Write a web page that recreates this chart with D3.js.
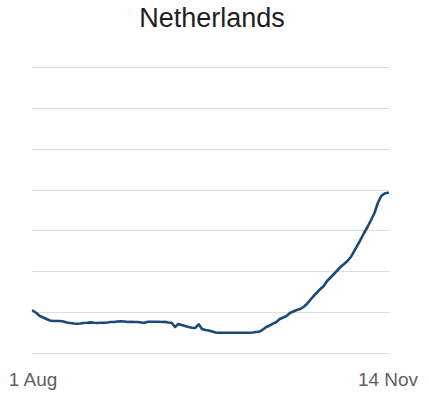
<!DOCTYPE html>
<html>
<head>
<meta charset="utf-8">
<script src="https://cdn.jsdelivr.net/npm/d3@7"></script>
<style>
  body { margin:0; background:#fff; }
  svg { display:block; font-family:"Liberation Sans", Arial, sans-serif; }
</style>
</head>
<body>
<svg id="chart" width="429" height="393"></svg>
<script>
// daily values, 1 Aug .. 14 Nov
const startDate = new Date(2020, 7, 1);
const endDate = new Date(2020, 10, 14);
const values = [
  10.35, 9.8, 9.06, 8.69, 8.32, 7.95, 7.83, 7.83, 7.83, 7.7,
  7.46, 7.34, 7.22, 7.17, 7.22, 7.34, 7.4, 7.5, 7.4, 7.34,
  7.4, 7.4, 7.46, 7.59, 7.59, 7.7, 7.76, 7.7, 7.59, 7.66,
  7.59, 7.59, 7.46, 7.4, 7.66, 7.66, 7.66, 7.66, 7.59, 7.66,
  7.46, 7.4, 6.36, 7.1, 6.85, 6.61, 6.36, 6.19, 6.12, 7.02,
  5.87, 5.63, 5.51, 5.26, 5.02, 4.97, 4.97, 4.97, 4.97, 4.97,
  4.97, 4.97, 4.97, 4.97, 4.97, 5.02, 5.14, 5.26, 5.75, 6.36,
  6.73, 7.17, 7.59, 8.32, 8.69, 9.06, 9.79, 10.16, 10.52, 10.77,
  11.26, 11.99, 12.97, 13.95, 14.81, 15.66, 16.4, 17.62, 18.48, 19.33,
  20.19, 21.05, 21.78, 22.52, 23.49, 24.96, 26.43, 27.9, 29.49, 30.96,
  32.55, 34.26, 36.71, 38.42, 39.04, 39.23
];
const gridValues = [0, 10, 20, 30, 40, 50, 60, 70];
const xTickLabels = ["1 Aug", "14 Nov"];
const title = "Netherlands";

const data = values.map((v, i) => ({ date: d3.timeDay.offset(startDate, i), v }));

const svg = d3.select('#chart');
const m = { left: 33, right: 41, top: 67, bottom: 40 };
const W = 429, H = 393;

const x = d3.scaleTime().domain([startDate, endDate]).range([m.left, W - m.right]);
const y = d3.scaleLinear().domain([0, 70]).range([H - m.bottom, m.top]);

// gridlines
svg.append('g')
  .selectAll('line')
  .data(gridValues)
  .join('line')
  .attr('x1', m.left - 1).attr('x2', W - m.right + 1)
  .attr('y1', d => Math.round(y(d)) + 0.5).attr('y2', d => Math.round(y(d)) + 0.5)
  .attr('stroke', '#dedede').attr('stroke-width', 1);

// x labels at the two ends
svg.append('g')
  .selectAll('text')
  .data([startDate, endDate])
  .join('text')
  .attr('x', d => x(d))
  .attr('y', 386)
  .attr('text-anchor', 'middle')
  .attr('font-size', 19)
  .attr('fill', '#5f5f5f')
  .text((d, i) => xTickLabels[i]);

// line
const line = d3.line().x(d => x(d.date)).y(d => y(d.v));
svg.append('path')
  .datum(data)
  .attr('d', line)
  .attr('fill', 'none')
  .attr('stroke', '#1a4a78')
  .attr('stroke-width', 2.6)
  .attr('stroke-linejoin', 'round')
  .attr('stroke-linecap', 'round');

svg.append('text')
  .attr('x', 212).attr('y', 27)
  .attr('text-anchor', 'middle')
  .attr('font-size', 27)
  .attr('fill', '#1e1e1e')
  .text(title);
</script>
</body>
</html>
